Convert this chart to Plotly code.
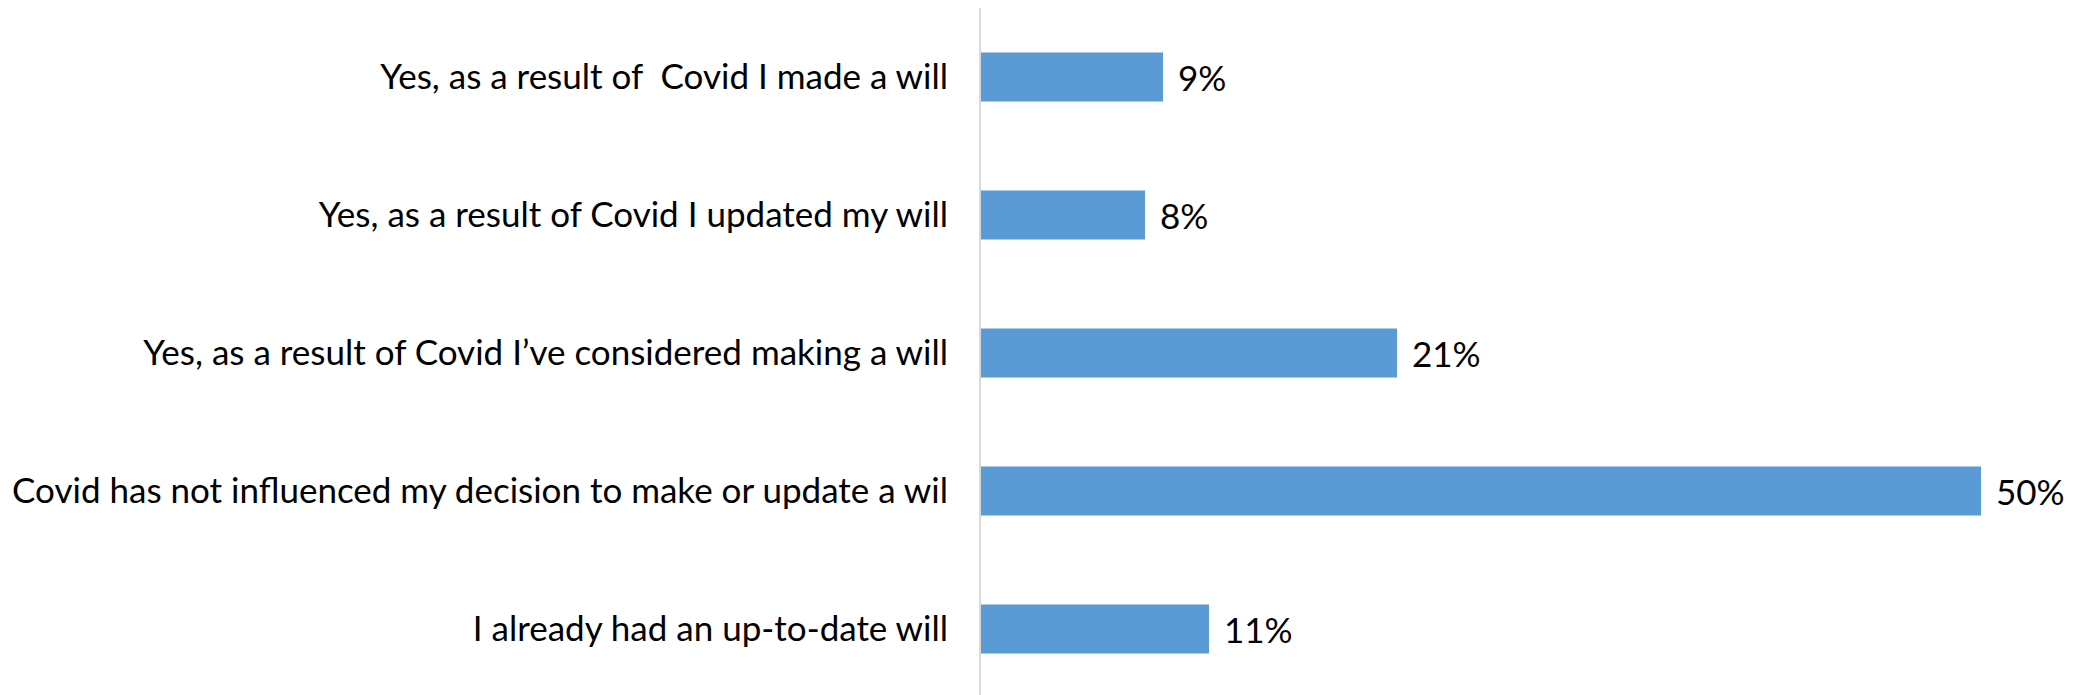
import plotly.graph_objects as go

categories = [
    "Yes, as a result of  Covid I made a will",
    "Yes, as a result of Covid I updated my will",
    "Yes, as a result of Covid I\u2019ve considered making a will",
    "Covid has not influenced my decision to make or update a wil",
    "I already had an up-to-date will",
]
values = [9.1, 8.2, 20.8, 50.0, 11.4]
labels = ["9%", "8%", "21%", "50%", "11%"]

FONT = "Lato"
FS = 35
fig = go.Figure(go.Bar(
    x=values, y=categories, orientation="h",
    marker=dict(color="#5b9bd5", line=dict(width=0)),
    width=0.355,
))
for c, v, t in zip(categories, values, labels):
    fig.add_annotation(x=v, y=c, text=t, showarrow=False, xanchor="left",
                       xshift=13, font=dict(family=FONT, size=FS, color="#000000"))

fig.update_layout(
    width=2069, height=687,
    margin=dict(l=973, r=16, t=0, b=0),
    paper_bgcolor="white", plot_bgcolor="white",
    showlegend=False,
    font=dict(family=FONT, size=FS, color="#000000"),
    xaxis=dict(range=[0, 54], showgrid=False, zeroline=False, showticklabels=False, showline=False),
    yaxis=dict(range=[4.478, -0.5], showgrid=False, zeroline=False, showline=True,
               linecolor="#d9d9d9", linewidth=2, ticks="", ticklabelstandoff=24,
               automargin=False,
               tickfont=dict(family=FONT, size=FS, color="#000000")),
)
fig.write_html("out.html")
